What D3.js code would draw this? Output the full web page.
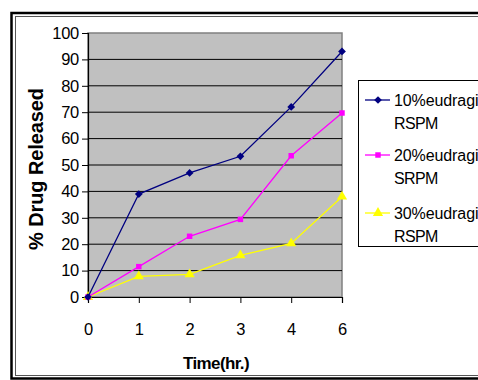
<!DOCTYPE html>
<html><head><meta charset="utf-8">
<script src="https://cdn.jsdelivr.net/npm/d3@7"></script>
<style>body{margin:0;background:#fff}svg{display:block;font-family:Arial,"Liberation Sans",sans-serif}</style>
</head><body><svg id="c" width="478" height="380"></svg>
<script>
const categories = ["0","1","2","3","4","6"];
const s10 = [0, 39, 47, 53.3, 72, 93];
const s20 = [0, 11.5, 23, 29.4, 53.5, 69.7];
const s30 = [0, 7.8, 8.6, 15.8, 20.3, 38];
const seriesNames = [["10%eudragit","RSPM"],["20%eudragit","SRPM"],["30%eudragit","RSPM"]];
const yTicks = [0,10,20,30,40,50,60,70,80,90,100];

const svg = d3.select("#c");
const L=88,R=342,T=33,B=297;
const x = d3.scalePoint().domain(categories).range([L,R]);
const y = d3.scaleLinear().domain([0,100]).range([B,T]);

// outer double border
svg.append("rect").attr("x",11.5).attr("y",13).attr("width",480).attr("height",365.5).attr("fill","none").attr("stroke","#000").attr("stroke-width",2.5);
svg.append("rect").attr("x",15.5).attr("y",16.5).attr("width",480).attr("height",359).attr("fill","none").attr("stroke","#555").attr("stroke-width",1);

// plot area
svg.append("rect").attr("x",L).attr("y",T).attr("width",R-L).attr("height",B-T).attr("fill","#c0c0c0").attr("stroke","#808080").attr("stroke-width",1.5);
// gridlines
svg.append("g").selectAll("line").data(yTicks.filter(d=>d>0&&d<100)).join("line")
  .attr("x1",L).attr("x2",R).attr("y1",d=>y(d)).attr("y2",d=>y(d)).attr("stroke","#000").attr("stroke-width",1);

// y axis
const ya = svg.append("g").attr("transform",`translate(${L},0)`).call(d3.axisLeft(y).tickValues(yTicks).tickSize(6).tickPadding(3));
ya.select(".domain").attr("stroke","#000").attr("stroke-width",1.2);
ya.selectAll("text").attr("font-size",16.5).attr("letter-spacing",-0.3).attr("fill","#000").attr("font-family","Arial, Liberation Sans, sans-serif");
// x axis
const xa = svg.append("g").attr("transform",`translate(0,${B})`).call(d3.axisBottom(x).tickSize(6).tickPadding(20));
xa.select(".domain").attr("stroke","#000").attr("stroke-width",1.2);
xa.selectAll("text").attr("font-size",16.5).attr("fill","#000").attr("font-family","Arial, Liberation Sans, sans-serif");

// titles
svg.append("text").attr("x",216).attr("y",369).attr("text-anchor","middle").attr("font-weight","bold").attr("font-size",17).attr("letter-spacing",-0.6).text("Time(hr.)");
svg.append("text").attr("transform","translate(43,169) rotate(-90)").attr("text-anchor","middle").attr("font-weight","bold").attr("font-size",20).attr("letter-spacing",-0.1).text("% Drug Released");

// series
const series = [
  {v:s10,color:"#000080",shape:d3.symbolSquare,size:30,rot:45},
  {v:s20,color:"#ff00ff",shape:d3.symbolSquare,size:30,rot:0},
  {v:s30,color:"#ffff00",shape:d3.symbolTriangle,size:45,rot:0}
];
const line = d3.line().x((d,i)=>x(categories[i])).y(d=>y(d));
series.slice().reverse().forEach(s=>{
  svg.append("path").datum(s.v).attr("d",line).attr("fill","none").attr("stroke",s.color).attr("stroke-width",1.3);
  svg.append("g").selectAll("path").data(s.v).join("path")
    .attr("transform",(d,i)=>`translate(${x(categories[i])},${y(d)}) rotate(${s.rot})`)
    .attr("d",d3.symbol().type(s.shape).size(s.size)).attr("fill",s.color);
});

// legend
svg.append("rect").attr("x",358.5).attr("y",80.5).attr("width",140).attr("height",166).attr("fill","#fff").attr("stroke","#000").attr("stroke-width",1);
const ly = [100,155,213];
series.forEach((s,i)=>{
  const g = svg.append("g");
  g.append("line").attr("x1",365).attr("x2",390).attr("y1",ly[i]).attr("y2",ly[i]).attr("stroke",s.color).attr("stroke-width",1.3);
  g.append("path").attr("transform",`translate(378,${ly[i]}) rotate(${s.rot})`).attr("d",d3.symbol().type(s.shape).size(s.size)).attr("fill",s.color);
  g.append("text").attr("x",394).attr("y",ly[i]+6).attr("font-size",16).attr("letter-spacing",-0.1).text(seriesNames[i][0]);
  g.append("text").attr("x",394).attr("y",ly[i]+29).attr("font-size",16).attr("letter-spacing",-0.6).text(seriesNames[i][1]);
});
</script></body></html>
